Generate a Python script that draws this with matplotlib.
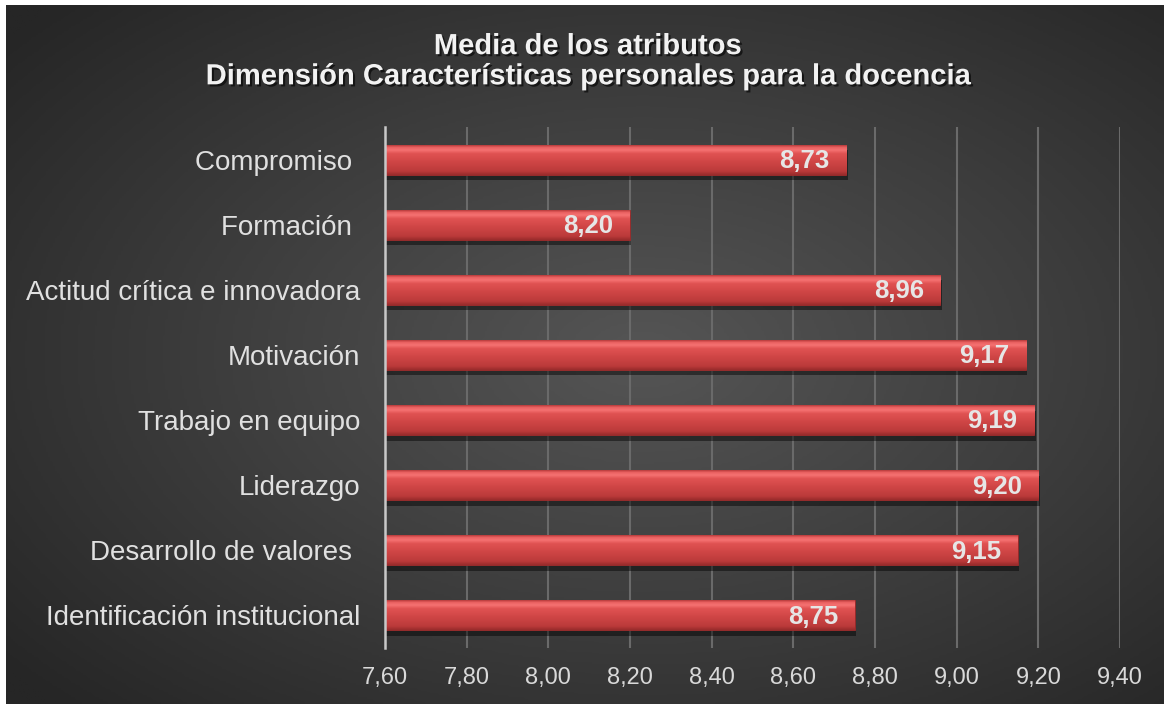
import matplotlib.pyplot as plt
import matplotlib.patheffects as pe
from matplotlib.colors import LinearSegmentedColormap
import numpy as np

plt.rcParams['font.family'] = ['Liberation Sans', 'DejaVu Sans']

# data (top to bottom as shown)
categories = ["Compromiso ", "Formación ", "Actitud crítica e innovadora", "Motivación",
              "Trabajo en equipo", "Liderazgo", "Desarrollo de valores ",
              "Identificación institucional"]
values = [8.73, 8.20, 8.96, 9.17, 9.19, 9.20, 9.15, 8.75]
xticks = [7.60, 7.80, 8.00, 8.20, 8.40, 8.60, 8.80, 9.00, 9.20, 9.40]
title = "Media de los atributos\nDimensión Características personales para la docencia"

fig = plt.figure(figsize=(11.64, 7.04), dpi=100)
fig.patch.set_facecolor('white')

# dark radial background panel
bg = fig.add_axes([6/1164, 0, 1 - 6/1164, 1 - 5/704])
yy, xx = np.mgrid[0:1:300j, 0:1:500j]
r = np.sqrt(((xx - 0.55) / 0.75) ** 2 + ((yy - 0.5) / 0.75) ** 2)
bg_cmap = LinearSegmentedColormap.from_list('bg', ['#555555', '#3e3e3e', '#262626'])
bg.imshow(r, cmap=bg_cmap, aspect='auto', extent=(0, 1, 0, 1), vmin=0, vmax=0.95)
bg.set_axis_off()

ax = fig.add_axes([385/1164, 56/704, (1120 - 385)/1164, (648 - 127)/704])
ax.set_facecolor('none')

ypos = np.arange(len(categories))[::-1]
bars = ax.barh(ypos, [v - xticks[0] for v in values], left=xticks[0], height=0.46,
               color='#d04444', edgecolor='#9a2a2a', linewidth=0.6, zorder=3)

bar_cmap = LinearSegmentedColormap.from_list(
    'bar', [(0.0, '#9a2c2c'), (0.12, '#bb3a3a'), (0.45, '#d04646'), (0.72, '#e05252'),
            (0.84, '#f57272'), (0.93, '#ea6262'), (1.0, '#b83c3c')])
grad = np.linspace(0, 1, 64).reshape(-1, 1)
for b in bars:
    b.set_path_effects([pe.SimplePatchShadow(offset=(1, -4), shadow_rgbFace='black', alpha=0.45),
                        pe.Normal()])
    x0, y0 = b.get_x(), b.get_y()
    im = ax.imshow(grad, cmap=bar_cmap, origin='lower', aspect='auto',
                   extent=(x0, x0 + b.get_width(), y0, y0 + b.get_height()), zorder=4)
    im.set_clip_path(b)

for y, v in zip(ypos, values):
    ax.annotate(f"{v:.2f}".replace('.', ','), xy=(v, y), xytext=(-12, -1),
                textcoords='offset points', ha='right', va='center',
                fontsize=18.5, fontweight='bold', color='#e6e6e6', zorder=6)

ax.set_xlim(xticks[0], xticks[-1])
ax.set_ylim(-0.5, len(categories) - 0.5)
ax.set_xticks(xticks)
ax.set_xticklabels([f"{t:.2f}".replace('.', ',') for t in xticks])
ax.set_yticks(ypos)
ax.set_yticklabels(categories)
ax.tick_params(axis='x', length=0, pad=14, labelsize=17, labelcolor='#d9d9d9')
ax.tick_params(axis='y', length=0, pad=18, labelsize=20, labelcolor='#e0e0e0')
ax.grid(axis='x', color='#6a6a6a', linewidth=1.5, zorder=0)
ax.set_axisbelow(True)
for s in ['top', 'right', 'bottom']:
    ax.spines[s].set_visible(False)
ax.spines['left'].set_color('#c8c8c8')
ax.spines['left'].set_linewidth(1.8)
ax.spines['left'].set_zorder(5)

fig.text(0.505, 0.913, title, ha='center', va='center', fontsize=21, fontweight='bold',
         color='#f2f2f2', linespacing=1.1,
         path_effects=[pe.withSimplePatchShadow(offset=(1.5, -1.5), shadow_rgbFace='black', alpha=0.6)])

fig.savefig('out.png', dpi=100)
